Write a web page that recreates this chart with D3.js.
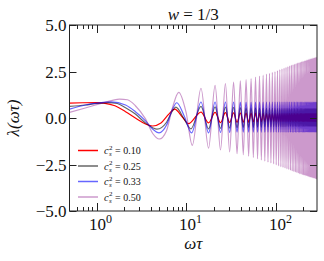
<!DOCTYPE html>
<html>
<head>
<meta charset="utf-8">
<script src="https://cdn.jsdelivr.net/npm/d3@7"></script>
<style>
  body { margin: 0; background: #fff; }
  svg text { font-family: "Liberation Serif", "DejaVu Serif", serif; }
</style>
</head>
<body>
<div id="chart"></div>
<script>
// axis ticks
const xMajor = [1, 10, 100];
const xMajorExp = ["0", "1", "2"];
const xMinor = [0.6, 0.7, 0.8, 0.9, 2, 3, 4, 5, 6, 7, 8, 9, 20, 30, 40, 50, 60, 70, 80, 90, 200];
const yTicks = [-5, -2.5, 0, 2.5, 5];
const yTickLabels = ["\u22125.0", "\u22122.5", "0.0", "2.5", "5.0"];

// legend
const csLabels = ["0.10", "0.25", "0.33", "0.50"];

// low-frequency part of each curve, [omega*tau, lambda]
const redStart = [[0.5, 0.8], [0.7, 0.82], [1.0, 0.83], [1.2, 0.8], [1.6, 0.66], [2.1, 0.34], [2.7, 0.0], [3.5, -0.32], [4.2, -0.43], [5.2, -0.27], [6.4, 0.22], [7.4, 0.48], [9.0, 0.05], [10.5, -0.3]];
const grayStart = [[0.5, 0.62], [0.75, 0.7], [1.0, 0.78], [1.35, 0.83], [1.7, 0.78], [2.1, 0.55], [2.7, 0.21], [3.5, -0.27], [4.2, -0.52], [4.7, -0.6], [6.0, -0.23], [7.0, 0.39], [7.6, 0.58], [9.4, -0.05], [11.2, -0.58]];
const blueStart = [[0.5, 0.48], [0.75, 0.7], [1.0, 0.8], [1.45, 0.87], [2.1, 0.7], [2.7, 0.34], [3.5, -0.15], [4.2, -0.59], [4.95, -0.8], [6.0, -0.38], [7.0, 0.48], [7.8, 0.82], [9.4, 0.12], [11.4, -0.8]];
const purpleStart = [[0.5, 0.3], [0.75, 0.54], [1.16, 0.8], [1.8, 1.02], [2.2, 0.98], [2.7, 0.66], [3.5, -0.05], [4.25, -0.86], [4.97, -1.13], [6.0, -0.68], [7.0, 0.57], [8.2, 1.38], [9.9, 0.3], [11.6, -1.47]];

// fast oscillation: positions of alternating peaks / troughs (peak first)
const extremaX = [
  14.5, 17.6, 20.8, 23.9, 27.1, 30.2, 33.4, 36.5, 39.7, 42.8,
  46.0, 49.1, 52.3, 55.4, 58.6, 61.7, 64.9, 68.0, 71.2, 74.3,
  77.5, 80.6, 83.8, 86.9, 90.1, 93.2, 96.4, 99.5, 102.7, 105.8,
  109.0, 112.1, 115.3, 118.4, 121.6, 124.7, 127.9, 131.0, 134.2, 137.3,
  140.5, 143.6, 146.8, 149.9, 153.1, 156.2, 159.4, 162.5, 165.7, 168.8,
  172.0, 175.1, 178.3, 181.4, 184.6, 187.7, 190.9, 194.0, 197.2, 200.3,
  203.5, 206.6, 209.8, 212.9, 216.1, 219.2, 222.4, 225.5, 228.7, 231.8,
  235.0, 238.1, 241.3, 244.4, 247.6, 250.7, 253.9, 257.0, 260.2, 263.3,
  266.5, 269.6, 272.8, 275.9, 279.1, 282.2, 285.4, 288.5, 291.7, 294.8,
  298.0, 301.1
];

// height of each peak / depth of each trough
const redSwing = [
  0.32, 0.26, 0.30, 0.25, 0.29, 0.24, 0.28, 0.23, 0.27, 0.22,
  0.27, 0.22, 0.26, 0.21, 0.26, 0.21, 0.25, 0.20, 0.25, 0.20,
  0.24, 0.19, 0.24, 0.19, 0.24, 0.19, 0.24, 0.19, 0.24, 0.19,
  0.24, 0.19, 0.24, 0.19, 0.24, 0.19, 0.24, 0.19, 0.24, 0.19,
  0.24, 0.19, 0.24, 0.19, 0.24, 0.19, 0.24, 0.19, 0.24, 0.19,
  0.24, 0.19, 0.24, 0.19, 0.24, 0.19, 0.24, 0.19, 0.24, 0.19,
  0.24, 0.19, 0.24, 0.19, 0.24, 0.19, 0.24, 0.19, 0.24, 0.19,
  0.24, 0.19, 0.24, 0.19, 0.24, 0.19, 0.24, 0.19, 0.24, 0.19,
  0.24, 0.19, 0.24, 0.19, 0.24, 0.19, 0.24, 0.19, 0.24, 0.19,
  0.24, 0.19
];
const graySwing = [
  0.62, 0.58, 0.60, 0.56, 0.58, 0.54, 0.57, 0.52, 0.56, 0.51,
  0.55, 0.50, 0.54, 0.50, 0.54, 0.49, 0.53, 0.49, 0.53, 0.48,
  0.52, 0.48, 0.52, 0.47, 0.52, 0.47, 0.51, 0.47, 0.51, 0.46,
  0.51, 0.46, 0.50, 0.46, 0.50, 0.46, 0.50, 0.45, 0.50, 0.45,
  0.50, 0.45, 0.50, 0.45, 0.50, 0.45, 0.50, 0.45, 0.50, 0.45,
  0.50, 0.45, 0.50, 0.45, 0.50, 0.45, 0.50, 0.45, 0.50, 0.45,
  0.50, 0.45, 0.50, 0.45, 0.50, 0.45, 0.50, 0.45, 0.50, 0.45,
  0.50, 0.45, 0.50, 0.45, 0.50, 0.45, 0.50, 0.45, 0.50, 0.45,
  0.50, 0.45, 0.50, 0.45, 0.50, 0.45, 0.50, 0.45, 0.50, 0.45,
  0.50, 0.45
];
const blueSwing = [
  0.86, 0.80, 0.86, 0.78, 0.86, 0.77, 0.86, 0.76, 0.86, 0.76,
  0.86, 0.76, 0.86, 0.76, 0.86, 0.76, 0.86, 0.76, 0.86, 0.76,
  0.86, 0.76, 0.86, 0.76, 0.86, 0.76, 0.86, 0.76, 0.86, 0.76,
  0.86, 0.76, 0.86, 0.76, 0.86, 0.76, 0.86, 0.76, 0.86, 0.76,
  0.86, 0.76, 0.86, 0.76, 0.86, 0.76, 0.86, 0.76, 0.86, 0.76,
  0.86, 0.76, 0.86, 0.76, 0.86, 0.76, 0.86, 0.76, 0.86, 0.76,
  0.86, 0.76, 0.86, 0.76, 0.86, 0.76, 0.86, 0.76, 0.86, 0.76,
  0.86, 0.76, 0.86, 0.76, 0.86, 0.76, 0.86, 0.76, 0.86, 0.76,
  0.86, 0.76, 0.86, 0.76, 0.86, 0.76, 0.86, 0.76, 0.86, 0.76,
  0.86, 0.76
];
const purpleSwing = [
  1.60, 1.62, 1.75, 1.72, 1.85, 1.82, 1.93, 1.92, 2.00, 1.98,
  2.06, 2.05, 2.12, 2.12, 2.20, 2.20, 2.25, 2.26, 2.30, 2.32,
  2.36, 2.38, 2.40, 2.42, 2.45, 2.47, 2.50, 2.52, 2.55, 2.57,
  2.60, 2.62, 2.64, 2.66, 2.68, 2.70, 2.72, 2.74, 2.76, 2.78,
  2.80, 2.82, 2.84, 2.85, 2.87, 2.88, 2.90, 2.91, 2.93, 2.94,
  2.96, 2.97, 2.99, 3.00, 3.01, 3.02, 3.04, 3.05, 3.06, 3.07,
  3.08, 3.09, 3.10, 3.11, 3.12, 3.13, 3.14, 3.15, 3.16, 3.17,
  3.18, 3.19, 3.20, 3.20, 3.21, 3.22, 3.23, 3.23, 3.24, 3.25,
  3.26, 3.26, 3.27, 3.28, 3.28, 3.29, 3.30, 3.30, 3.31, 3.31,
  3.32, 3.32
];

const width = 324;
const height = 261;
const margin = { left: 69.5, right: 7, top: 25, bottom: 50 };

const x = d3.scaleLog().domain([0.5, 282.7]).range([margin.left, width - margin.right]);
const y = d3.scaleLinear().domain([-5, 5]).range([height - margin.bottom, margin.top]);

// join start points with the peak/trough list
const buildCurve = (start, swing) =>
  start.concat(extremaX.map((v, i) => [v, i % 2 === 0 ? swing[i] : -swing[i]]));

const series = [
  { label: csLabels[0], color: "#ff0000", opacity: 1, pts: buildCurve(redStart, redSwing) },
  { label: csLabels[1], color: "#000000", opacity: 0.6, pts: buildCurve(grayStart, graySwing) },
  { label: csLabels[2], color: "#0000ff", opacity: 0.6, pts: buildCurve(blueStart, blueSwing) },
  { label: csLabels[3], color: "#800080", opacity: 0.4, pts: buildCurve(purpleStart, purpleSwing) },
];

const svg = d3
  .select("#chart")
  .append("svg")
  .attr("width", width)
  .attr("height", height);

svg
  .append("clipPath")
  .attr("id", "clip")
  .append("rect")
  .attr("x", x.range()[0])
  .attr("y", margin.top)
  .attr("width", x.range()[1] - x.range()[0])
  .attr("height", y.range()[0] - margin.top);

const line = d3
  .line()
  .x((d) => x(d[0]))
  .y((d) => y(d[1]))
  .curve(d3.curveMonotoneX);

svg
  .append("g")
  .attr("clip-path", "url(#clip)")
  .selectAll("path")
  .data(series)
  .enter()
  .append("path")
  .attr("d", (d) => line(d.pts))
  .attr("fill", "none")
  .attr("stroke", (d) => d.color)
  .attr("stroke-opacity", (d) => d.opacity)
  .attr("stroke-width", 1.2);

// frame + inward ticks on all sides
const x0 = x.range()[0], x1 = x.range()[1];
const yb = y.range()[0], yt = y.range()[1];
const frame = svg.append("g").attr("stroke", "#222").attr("stroke-width", 1);

frame
  .append("rect")
  .attr("x", x0)
  .attr("y", yt)
  .attr("width", x1 - x0)
  .attr("height", yb - yt)
  .attr("fill", "none");

const xTickData = xMajor.map((v) => ({ v, len: 8 })).concat(xMinor.map((v) => ({ v, len: 4 })));
xTickData.forEach((t) => {
  const px = Math.round(x(t.v)) + 0.5;
  frame.append("line").attr("x1", px).attr("x2", px).attr("y1", yb).attr("y2", yb - t.len);
  frame.append("line").attr("x1", px).attr("x2", px).attr("y1", yt).attr("y2", yt + t.len);
});

yTicks.forEach((v) => {
  const py = Math.round(y(v)) + 0.5;
  frame.append("line").attr("x1", x0).attr("x2", x0 + 7).attr("y1", py).attr("y2", py);
  frame.append("line").attr("x1", x1).attr("x2", x1 - 7).attr("y1", py).attr("y2", py);
});

// tick labels
svg
  .selectAll(".ylab")
  .data(yTicks)
  .enter()
  .append("text")
  .attr("class", "ylab")
  .attr("x", x0 - 3)
  .attr("y", (d) => y(d) + 6)
  .attr("text-anchor", "end")
  .attr("fill", "#111")
  .style("font-size", "17px")
  .text((d, i) => yTickLabels[i]);

xMajor.forEach((v, i) => {
  const t = svg
    .append("text")
    .attr("x", x(v) + 4)
    .attr("y", yb + 19)
    .attr("text-anchor", "middle")
    .attr("fill", "#111")
    .style("font-size", "17px");
  t.append("tspan").text("10");
  t.append("tspan").attr("dy", -7).style("font-size", "12px").text(xMajorExp[i]);
});

// axis titles
svg
  .append("text")
  .attr("x", (x0 + x1) / 2)
  .attr("y", 249)
  .attr("text-anchor", "middle")
  .attr("fill", "#111")
  .style("font-size", "17px")
  .style("font-style", "italic")
  .text("\u03c9\u03c4");

svg
  .append("text")
  .attr("transform", `translate(19,${(yt + yb) / 2}) rotate(-90)`)
  .attr("text-anchor", "middle")
  .attr("fill", "#111")
  .style("font-size", "17px")
  .style("font-style", "italic")
  .text("\u03bb(\u03c9\u03c4)");

const title = svg
  .append("text")
  .attr("x", (x0 + x1) / 2)
  .attr("y", 20)
  .attr("text-anchor", "middle")
  .attr("fill", "#111")
  .style("font-size", "17px");
title.append("tspan").style("font-style", "italic").text("w");
title.append("tspan").text(" = 1/3");

// legend
const legend = svg.append("g").attr("fill", "#111");
series.forEach((s, i) => {
  const ly = 150.5 + i * 15.5;
  legend
    .append("line")
    .attr("x1", 78)
    .attr("x2", 98)
    .attr("y1", ly)
    .attr("y2", ly)
    .attr("stroke", s.color)
    .attr("stroke-opacity", s.opacity)
    .attr("stroke-width", 1.5);
  legend.append("text").attr("x", 104).attr("y", ly + 3.5).style("font-size", "10.5px").style("font-style", "italic").text("c");
  legend.append("text").attr("x", 109).attr("y", ly - 1).style("font-size", "7px").text("2");
  legend.append("text").attr("x", 109).attr("y", ly + 5.5).style("font-size", "7px").style("font-style", "italic").text("s");
  legend.append("text").attr("x", 115).attr("y", ly + 3.5).style("font-size", "10px").text("= " + s.label);
});
</script>
</body>
</html>
